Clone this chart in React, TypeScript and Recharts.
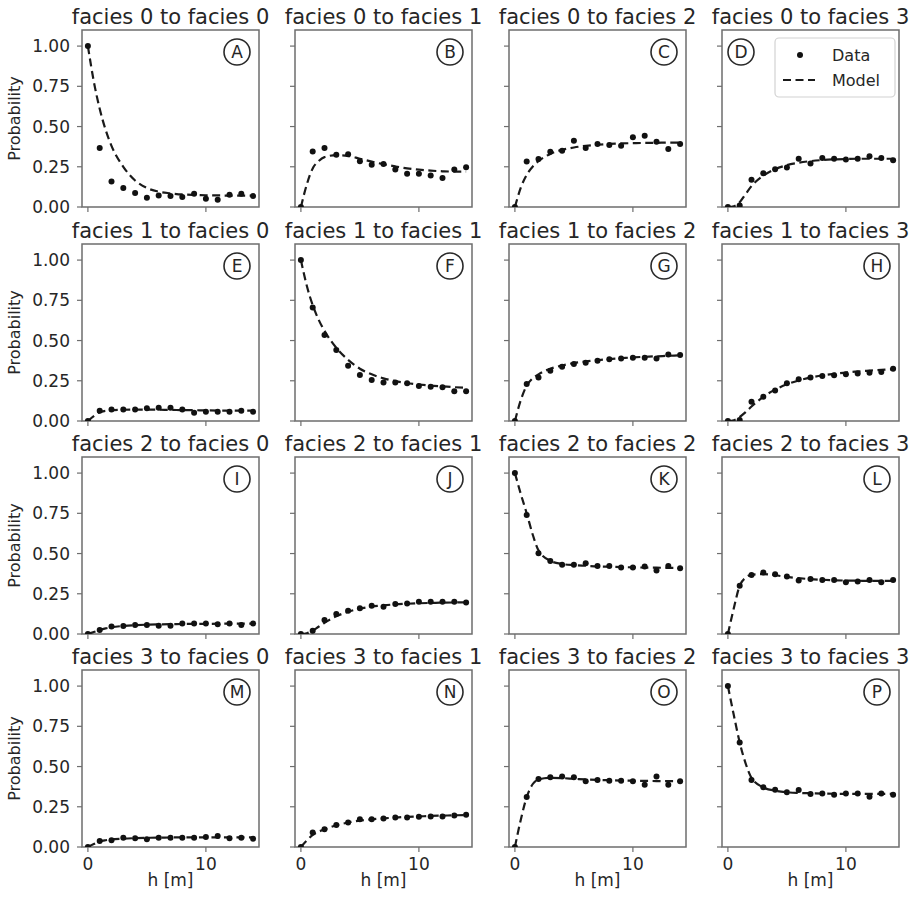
import React from 'react';
import { ComposedChart, XAxis, YAxis, Line, Scatter, ReferenceArea } from 'recharts';

// ---- data ----
const H_DATA = [0, 1, 2, 3, 4, 5, 6, 7, 8, 9, 10, 11, 12, 13, 14];
const H_MODEL = [0, 0.5, 1, 1.5, 2, 3, 4, 5, 6, 7, 8, 9, 10, 11, 12, 13, 14];
const X_TICKS = [0, 10];
const Y_TICKS = [0, 0.25, 0.5, 0.75, 1.0];
const FACIES = [0, 1, 2, 3];
const LETTERS = ['A', 'B', 'C', 'D', 'E', 'F', 'G', 'H', 'I', 'J', 'K', 'L', 'M', 'N', 'O', 'P'];

const DATA_A = [1.0, 0.367, 0.159, 0.118, 0.087, 0.058, 0.072, 0.068, 0.062, 0.082, 0.052, 0.045, 0.076, 0.082, 0.068];
const DATA_B = [0, 0.345, 0.367, 0.324, 0.328, 0.285, 0.262, 0.268, 0.233, 0.206, 0.206, 0.196, 0.181, 0.233, 0.247];
const DATA_C = [0, 0.282, 0.299, 0.344, 0.35, 0.412, 0.367, 0.392, 0.386, 0.381, 0.433, 0.443, 0.406, 0.361, 0.392];
const DATA_D = [0, 0.01, 0.17, 0.21, 0.235, 0.245, 0.3, 0.27, 0.305, 0.3, 0.295, 0.3, 0.315, 0.305, 0.29];
const DATA_E = [0, 0.064, 0.072, 0.072, 0.072, 0.079, 0.083, 0.083, 0.072, 0.052, 0.058, 0.058, 0.058, 0.064, 0.058];
const DATA_F = [1.0, 0.706, 0.534, 0.441, 0.344, 0.286, 0.255, 0.24, 0.24, 0.234, 0.217, 0.213, 0.209, 0.185, 0.185];
const DATA_G = [0, 0.23, 0.271, 0.313, 0.337, 0.354, 0.362, 0.375, 0.383, 0.389, 0.393, 0.393, 0.389, 0.414, 0.41];
const DATA_H = [0, 0.006, 0.12, 0.15, 0.19, 0.235, 0.26, 0.27, 0.28, 0.285, 0.29, 0.295, 0.3, 0.305, 0.325];
const DATA_I = [0, 0.025, 0.046, 0.05, 0.056, 0.056, 0.052, 0.052, 0.066, 0.066, 0.066, 0.06, 0.066, 0.056, 0.066];
const DATA_J = [0, 0.02, 0.087, 0.124, 0.145, 0.16, 0.176, 0.17, 0.187, 0.19, 0.2, 0.2, 0.2, 0.2, 0.195];
const DATA_K = [1.0, 0.74, 0.502, 0.454, 0.43, 0.43, 0.44, 0.423, 0.423, 0.413, 0.413, 0.419, 0.394, 0.423, 0.409];
const DATA_L = [0, 0.3, 0.367, 0.382, 0.371, 0.357, 0.332, 0.342, 0.336, 0.336, 0.322, 0.326, 0.336, 0.322, 0.336];
const DATA_M = [0, 0.0375, 0.042, 0.058, 0.054, 0.048, 0.058, 0.058, 0.058, 0.058, 0.0625, 0.069, 0.054, 0.058, 0.052];
const DATA_N = [0, 0.09, 0.11, 0.1375, 0.152, 0.173, 0.173, 0.177, 0.183, 0.183, 0.1875, 0.19, 0.19, 0.195, 0.2];
const DATA_O = [0, 0.31, 0.423, 0.433, 0.4375, 0.433, 0.408, 0.417, 0.4125, 0.4125, 0.408, 0.3875, 0.4375, 0.3875, 0.408];
const DATA_P = [1.0, 0.65, 0.417, 0.371, 0.356, 0.34, 0.354, 0.329, 0.333, 0.325, 0.333, 0.333, 0.3125, 0.333, 0.325];

const MODEL_A = [1.0, 0.78, 0.61, 0.48, 0.38, 0.25, 0.165, 0.118, 0.095, 0.085, 0.078, 0.075, 0.073, 0.072, 0.071, 0.071, 0.07];
const MODEL_B = [0, 0.14, 0.24, 0.285, 0.31, 0.322, 0.318, 0.3, 0.282, 0.266, 0.252, 0.24, 0.232, 0.226, 0.222, 0.22, 0.22];
const MODEL_C = [0, 0.12, 0.2, 0.25, 0.285, 0.33, 0.355, 0.37, 0.38, 0.387, 0.392, 0.395, 0.397, 0.398, 0.399, 0.4, 0.4];
const MODEL_D = [0, 0.005, 0.03, 0.08, 0.13, 0.195, 0.235, 0.26, 0.275, 0.285, 0.292, 0.296, 0.298, 0.3, 0.3, 0.3, 0.3];
const MODEL_E = [0, 0.03, 0.055, 0.063, 0.067, 0.07, 0.071, 0.071, 0.07, 0.069, 0.068, 0.067, 0.066, 0.065, 0.065, 0.064, 0.064];
const MODEL_F = [1.0, 0.84, 0.72, 0.63, 0.56, 0.455, 0.38, 0.325, 0.29, 0.265, 0.248, 0.236, 0.227, 0.22, 0.215, 0.21, 0.206];
const MODEL_G = [0, 0.13, 0.22, 0.265, 0.29, 0.325, 0.345, 0.36, 0.37, 0.378, 0.385, 0.39, 0.395, 0.399, 0.402, 0.405, 0.408];
const MODEL_H = [0, 0.005, 0.025, 0.055, 0.09, 0.15, 0.195, 0.228, 0.252, 0.27, 0.283, 0.293, 0.301, 0.308, 0.313, 0.318, 0.322];
const MODEL_I = [0, 0.012, 0.025, 0.035, 0.042, 0.05, 0.055, 0.058, 0.06, 0.061, 0.062, 0.063, 0.063, 0.064, 0.064, 0.064, 0.065];
const MODEL_J = [0, 0.005, 0.02, 0.045, 0.07, 0.11, 0.138, 0.157, 0.17, 0.178, 0.184, 0.188, 0.191, 0.193, 0.195, 0.196, 0.197];
const MODEL_K = [1.0, 0.87, 0.75, 0.62, 0.52, 0.455, 0.435, 0.428, 0.424, 0.42, 0.418, 0.416, 0.414, 0.413, 0.412, 0.411, 0.41];
const MODEL_L = [0, 0.16, 0.3, 0.35, 0.368, 0.372, 0.365, 0.355, 0.347, 0.341, 0.337, 0.334, 0.332, 0.331, 0.33, 0.33, 0.33];
const MODEL_M = [0, 0.018, 0.034, 0.042, 0.047, 0.052, 0.055, 0.057, 0.058, 0.059, 0.06, 0.06, 0.06, 0.06, 0.06, 0.06, 0.06];
const MODEL_N = [0, 0.04, 0.075, 0.095, 0.11, 0.135, 0.152, 0.164, 0.172, 0.178, 0.183, 0.187, 0.19, 0.193, 0.195, 0.197, 0.198];
const MODEL_O = [0, 0.17, 0.31, 0.39, 0.42, 0.43, 0.428, 0.424, 0.42, 0.417, 0.415, 0.413, 0.412, 0.411, 0.41, 0.41, 0.41];
const MODEL_P = [1.0, 0.82, 0.65, 0.52, 0.43, 0.37, 0.35, 0.34, 0.336, 0.334, 0.332, 0.331, 0.33, 0.33, 0.33, 0.33, 0.33];

const DATA_SERIES = [DATA_A, DATA_B, DATA_C, DATA_D, DATA_E, DATA_F, DATA_G, DATA_H, DATA_I, DATA_J, DATA_K, DATA_L, DATA_M, DATA_N, DATA_O, DATA_P];
const MODEL_SERIES = [MODEL_A, MODEL_B, MODEL_C, MODEL_D, MODEL_E, MODEL_F, MODEL_G, MODEL_H, MODEL_I, MODEL_J, MODEL_K, MODEL_L, MODEL_M, MODEL_N, MODEL_O, MODEL_P];

// ---- layout ----
const COL_LEFT = [82, 295, 509, 722];
const ROW_TOP = [30, 244, 457, 670];
const PW = 177;
const PH = 177;
const PAD_L = 80;
const PAD_R = 6;
const PAD_T = 6;
const PAD_B = 40;
const FONT = '"DejaVu Sans", sans-serif';
const TEXT = '#262626';
const AXIS = '#6e6e6e';
const X_DOMAIN: [number, number] = [-0.5, 14.5];
const Y_DOMAIN: [number, number] = [0, 1.1];

const dotShape = (props: any) => <circle cx={props.cx} cy={props.cy} r={3} fill="#111" />;

const makeXTick = (show: boolean) => (props: any) => {
  if (!show) return <g />;
  const { x, y, payload } = props;
  return (
    <text x={x} y={y} dy="0.71em" textAnchor="middle" fontSize={17} fill={TEXT} fontFamily={FONT}>
      {payload.value}
    </text>
  );
};

const makeYTick = (show: boolean) => (props: any) => {
  if (!show) return <g />;
  const { x, y, payload } = props;
  return (
    <text x={x} y={y} dy="0.355em" textAnchor="end" fontSize={17} fill={TEXT} fontFamily={FONT}>
      {Number(payload.value).toFixed(2)}
    </text>
  );
};

function Panel({ idx }: { idx: number }) {
  const r = Math.floor(idx / 4);
  const c = idx % 4;
  const data = H_DATA.map((h, i) => ({ h, p: DATA_SERIES[idx][i] }));
  const model = H_MODEL.map((h, i) => ({ h, p: MODEL_SERIES[idx][i] }));
  return (
    <div style={{ position: 'absolute', left: COL_LEFT[c] - PAD_L, top: ROW_TOP[r] - PAD_T }}>
      <ComposedChart
        width={PAD_L + PW + PAD_R}
        height={PAD_T + PH + PAD_B}
        margin={{ top: PAD_T, right: PAD_R, bottom: 0, left: 0 }}
      >
        <XAxis
          type="number"
          dataKey="h"
          domain={X_DOMAIN}
          ticks={X_TICKS}
          interval={0}
          allowDataOverflow
          height={PAD_B}
          axisLine={false}
          tickSize={5}
          tickMargin={6}
          tickLine={{ stroke: AXIS, strokeWidth: 1.2 }}
          tick={makeXTick(r === 3)}
        />
        <YAxis
          type="number"
          domain={Y_DOMAIN}
          ticks={Y_TICKS}
          interval={0}
          allowDataOverflow
          width={PAD_L}
          axisLine={false}
          tickSize={5}
          tickMargin={7}
          tickLine={{ stroke: AXIS, strokeWidth: 1.2 }}
          tick={makeYTick(c === 0)}
        />
        <ReferenceArea
          x1={X_DOMAIN[0]}
          x2={X_DOMAIN[1]}
          y1={Y_DOMAIN[0]}
          y2={Y_DOMAIN[1]}
          fill="none"
          stroke={AXIS}
          strokeWidth={1.5}
          ifOverflow="visible"
        />
        <Line
          data={model}
          dataKey="p"
          type="monotone"
          stroke="#1a1a1a"
          strokeWidth={2.2}
          strokeDasharray="8 4.5"
          dot={false}
          activeDot={false}
          isAnimationActive={false}
        />
        <Scatter data={data} dataKey="p" fill="#111" shape={dotShape} isAnimationActive={false} />
      </ComposedChart>
    </div>
  );
}

export default function App() {
  const panels = Array.from({ length: 16 }, (_, i) => i);
  return (
    <div style={{ position: 'absolute', left: 0, top: 0, width: 917, height: 902, background: '#fff' }}>
      {panels.map((i) => (
        <Panel key={i} idx={i} />
      ))}
      <svg
        width={917}
        height={902}
        style={{ position: 'absolute', left: 0, top: 0, pointerEvents: 'none' }}
        fontFamily={FONT}
      >
        {panels.map((i) => {
          const r = Math.floor(i / 4);
          const c = i % 4;
          const left = COL_LEFT[c];
          const top = ROW_TOP[r];
          const isD = i === 3;
          const cx = isD ? left + 19 : left + PW - 22;
          const cy = top + 22;
          return (
            <g key={i}>
              <text x={left + PW / 2} y={top - 6.5} textAnchor="middle" fontSize={21} fill={TEXT}>
                {`facies ${FACIES[r]} to facies ${FACIES[c]}`}
              </text>
              <circle cx={cx} cy={cy} r={13} fill="none" stroke="#2a2a2a" strokeWidth={1.6} />
              <text x={cx} y={cy} dy="0.36em" textAnchor="middle" fontSize={17} fill={TEXT}>
                {LETTERS[i]}
              </text>
            </g>
          );
        })}
        {ROW_TOP.map((top, r) => (
          <text
            key={`yl${r}`}
            transform={`translate(20, ${top + PH / 2}) rotate(-90)`}
            textAnchor="middle"
            fontSize={16}
            fill={TEXT}
          >
            Probability
          </text>
        ))}
        {COL_LEFT.map((left, c) => (
          <text key={`xl${c}`} x={left + PW / 2} y={886} textAnchor="middle" fontSize={17} fill={TEXT}>
            h [m]
          </text>
        ))}
        {/* legend in panel D */}
        <g>
          <rect x={775} y={38} width={120} height={59} rx={4} fill="#fff" fillOpacity={0.85} stroke="#d2d2d2" strokeWidth={1.2} />
          <circle cx={800} cy={55} r={3} fill="#111" />
          <text x={832} y={55} dy="0.36em" fontSize={16} fill={TEXT}>
            Data
          </text>
          <line x1={783} y1={80} x2={815} y2={80} stroke="#1a1a1a" strokeWidth={2.2} strokeDasharray="8 4.5" />
          <text x={832} y={80} dy="0.36em" fontSize={16} fill={TEXT}>
            Model
          </text>
        </g>
      </svg>
    </div>
  );
}
